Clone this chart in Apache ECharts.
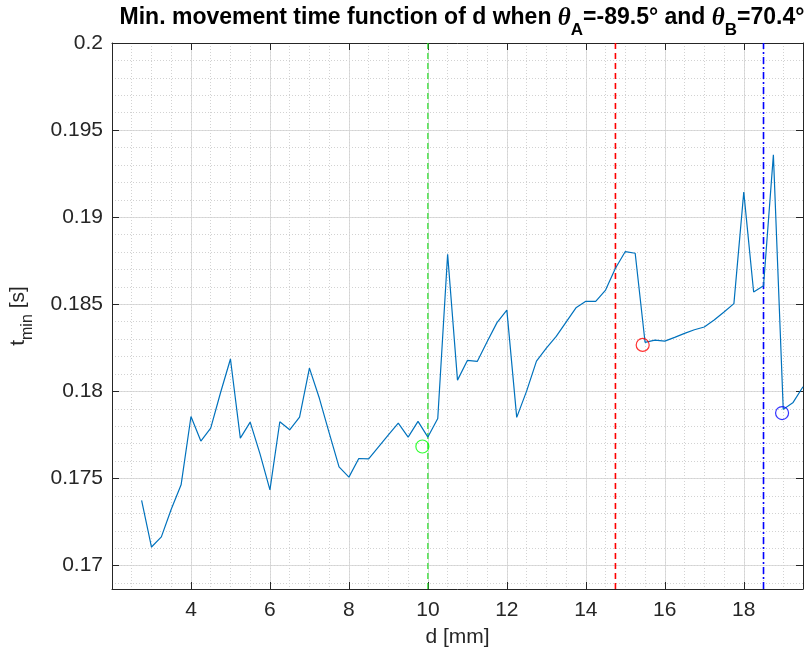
<!DOCTYPE html>
<html>
<head>
<meta charset="utf-8">
<script src="https://cdn.jsdelivr.net/npm/echarts@6/dist/echarts.min.js"></script>
<style>html,body{margin:0;padding:0;background:#fff}#c{width:808px;height:659px}</style>
</head>
<body>
<div id="c"></div>
<script>
// ---- data ----
const dValues = [2.75,3,3.25,3.5,3.75,4,4.25,4.5,4.75,5,5.25,5.5,5.75,6,6.25,6.5,6.75,7,7.25,7.5,7.75,8,8.25,8.5,8.75,9,9.25,9.5,9.75,10,10.25,10.5,10.75,11,11.25,11.5,11.75,12,12.25,12.5,12.75,13,13.25,13.5,13.75,14,14.25,14.5,14.75,15,15.25,15.5,15.75,16,16.25,16.5,16.75,17,17.25,17.5,17.75,18,18.25,18.5,18.75,19,19.25,19.5];
const tMin = [0.17375,0.17107,0.17165,0.17324,0.17464,0.17856,0.17715,0.17789,0.17994,0.18186,0.17732,0.17824,0.17640,0.17435,0.17826,0.17780,0.17852,0.18134,0.17962,0.17762,0.17567,0.17508,0.17615,0.17613,0.17682,0.17751,0.17818,0.17738,0.17828,0.17738,0.17845,0.18787,0.18065,0.18178,0.18172,0.18285,0.18395,0.18467,0.17851,0.18002,0.18174,0.18249,0.18316,0.18398,0.18480,0.18517,0.18517,0.18582,0.18707,0.18803,0.18793,0.18282,0.18295,0.18289,0.18310,0.18333,0.18354,0.18370,0.18410,0.18456,0.18504,0.19144,0.18571,0.18607,0.19358,0.17897,0.17937,0.18027];
const greenPoint = [9.86, 0.17684];
const redPoint = [15.44, 0.18267];
const bluePoint = [18.97, 0.17876];
const greenLineX = 10;
const redLineX = 14.75;
const blueLineX = 18.5;
const xRange = [2, 19.5];
const yRange = [0.16866, 0.2];

const FONT = 'Arial, "Liberation Sans", Helvetica, sans-serif';
const AX = '#262626';
const chart = echarts.init(document.getElementById('c'), null, {renderer: 'canvas'});

const pairs = dValues.map((d, i) => [d, tMin[i]]);

function boxAxis(pos) {
  return {
    show: true, position: pos,
    axisLine: {show: true, onZero: false, lineStyle: {color: AX, width: 1}},
    axisTick: {show: true, inside: true, length: 7, lineStyle: {color: AX}},
    axisLabel: {show: false}, splitLine: {show: false}
  };
}

function vline(x, color, dash, w) {
  return {
    type: 'line', xAxisIndex: 0, yAxisIndex: 0, z: 4, silent: true,
    showSymbol: false, symbol: 'none',
    data: [[x, yRange[0]], [x, yRange[1]]],
    itemStyle: {color: color},
    lineStyle: {color: color, width: w, type: dash}
  };
}

function ring(p, color) {
  return {type: 'scatter', data: [p], symbol: 'circle', symbolSize: 13, z: 6,
    itemStyle: {color: 'rgba(0,0,0,0)', borderColor: color, borderWidth: 1.2}};
}

const option = {
  animation: false,
  backgroundColor: '#fff',
  title: {
    left: 457, top: 1, textAlign: 'center',
    text: '{n|Min. movement time function of d when }{t|θ}{s|A}{n|=-89.5° and }{t|θ}{s|B}{n|=70.4°}',
    textStyle: {
      rich: {
        n: {fontFamily: FONT, fontSize: 23, fontWeight: 'bold', color: '#000', lineHeight: 28, verticalAlign: 'top'},
        t: {fontFamily: '"Liberation Serif", "DejaVu Serif", serif', fontStyle: 'italic', fontSize: 25, color: '#000', lineHeight: 28, verticalAlign: 'top'},
        s: {fontFamily: FONT, fontSize: 17, fontWeight: 'bold', color: '#000', lineHeight: 17, padding: [16, 0, 0, 0], verticalAlign: 'top'}
      }
    }
  },
  grid: {left: 111, top: 43, width: 692, height: 546, containLabel: false},
  xAxis: [
    {
      type: 'value', min: xRange[0], max: xRange[1], interval: 2, position: 'bottom',
      axisLine: {show: true, onZero: false, lineStyle: {color: AX, width: 1}},
      axisTick: {show: true, inside: true, length: 7, lineStyle: {color: AX}},
      axisLabel: {showMinLabel: false, showMaxLabel: false, fontFamily: FONT, fontSize: 21, color: AX, margin: 11},
      splitLine: {show: true, lineStyle: {color: '#dcdcdc', width: 1}},
      name: 'd [mm]', nameLocation: 'middle', nameGap: 38,
      nameTextStyle: {fontFamily: FONT, fontSize: 21, color: AX}
    },
    Object.assign({type: 'value', min: xRange[0], max: xRange[1], interval: 2}, boxAxis('top')),
    {
      type: 'value', min: xRange[0], max: xRange[1], interval: 0.5, position: 'bottom', offset: 0,
      axisLine: {show: false}, axisTick: {show: false}, axisLabel: {show: false},
      splitLine: {show: true, lineStyle: {color: '#d2d2d2', width: 1, type: [1, 2]}}
    }
  ],
  yAxis: [
    {
      type: 'value', min: yRange[0], max: yRange[1], splitNumber: 6, position: 'left',
      axisLine: {show: true, onZero: false, lineStyle: {color: AX, width: 1}},
      axisTick: {show: true, inside: true, length: 7, lineStyle: {color: AX}},
      axisLabel: {showMinLabel: false, fontFamily: FONT, fontSize: 21, color: AX, margin: 9},
      splitLine: {show: true, lineStyle: {color: '#dcdcdc', width: 1}},
      name: '{a|t}{s|min}{a| [s]}', nameLocation: 'middle', nameGap: 80, nameRotate: 90,
      nameTextStyle: {
        rich: {
          a: {fontFamily: FONT, fontSize: 21, color: AX, lineHeight: 24, verticalAlign: 'top'},
          s: {fontFamily: FONT, fontSize: 16, color: AX, lineHeight: 16, padding: [12, 0, 0, 0], verticalAlign: 'top'}
        }
      }
    },
    Object.assign({type: 'value', min: yRange[0], max: yRange[1], splitNumber: 6}, boxAxis('right')),
    {
      type: 'value', min: yRange[0], max: yRange[1], splitNumber: 31, position: 'left',
      axisLine: {show: false}, axisTick: {show: false}, axisLabel: {show: false},
      splitLine: {show: true, lineStyle: {color: '#d2d2d2', width: 1, type: [1, 2]}}
    }
  ],
  series: [
    {
      type: 'line', data: pairs, xAxisIndex: 0, yAxisIndex: 0,
      showSymbol: false, symbol: 'none',
      lineStyle: {color: '#0072BD', width: 1.2},
      z: 5
    },
    vline(greenLineX, '#22dd22', [6, 4], 1.2),
    vline(redLineX, '#ff0000', [6, 4], 1.6),
    vline(blueLineX, '#0000ff', [7, 3, 2, 3], 1.6),
    ring(greenPoint, '#00ff00'),
    ring(redPoint, '#ff0000'),
    ring(bluePoint, '#0000ff')
  ]
};
chart.setOption(option);
</script>
</body>
</html>
